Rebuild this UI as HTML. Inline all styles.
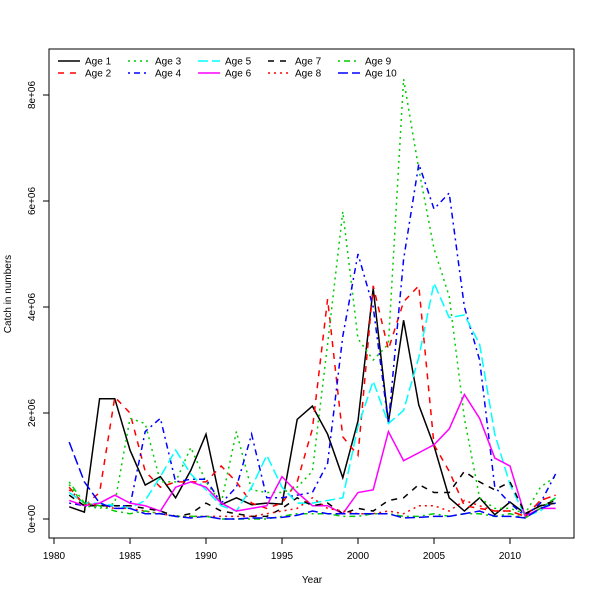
<!DOCTYPE html>
<html><head><meta charset="utf-8"><style>
body{margin:0;background:#fff;font-family:"Liberation Sans",sans-serif}
text{font-family:"Liberation Sans",sans-serif;font-size:10px}
</style></head><body>
<svg id="c" width="600" height="600">
<rect x="49" y="49" width="525" height="489" fill="none" stroke="#000"/>
<g id="axes"></g><g id="series"></g><g id="legend"></g>
<text x="312" y="583" text-anchor="middle">Year</text>
<text transform="translate(11,294) rotate(-90)" text-anchor="middle">Catch in numbers</text>
</svg>
<script>
const years=[1981,1982,1983,1984,1985,1986,1987,1988,1989,1990,1991,1992,1993,1994,1995,1996,1997,1998,1999,2000,2001,2002,2003,2004,2005,2006,2007,2008,2009,2010,2011,2012,2013];
const age1=[0.23,0.13,2.27,2.27,1.3,0.64,0.8,0.4,0.92,1.6,0.27,0.4,0.27,0.3,0.28,1.88,2.13,1.6,0.78,1.85,4.35,1.82,3.75,2.15,1.38,0.4,0.15,0.4,0.08,0.32,0.1,0.25,0.3];
const age2=[0.6,0.25,0.5,2.3,2.0,0.9,0.6,0.7,0.7,0.7,1.0,0.7,0.3,0.2,0.3,0.7,1.7,4.15,1.55,1.2,4.4,3.2,4.1,4.4,1.4,0.9,0.25,0.2,0.15,0.15,0.05,0.35,0.45];
const age3=[0.65,0.25,0.2,0.3,1.9,1.8,0.7,0.7,1.35,0.7,0.3,1.65,0.55,0.5,0.5,0.6,0.9,3.3,5.8,3.4,3.0,3.3,8.3,6.6,5.1,4.2,1.9,0.4,0.2,0.2,0.1,0.6,0.8];
const age4=[0.3,0.25,0.25,0.25,0.25,1.65,1.9,0.7,0.75,0.75,0.3,0.6,1.6,0.4,0.4,0.45,0.5,1.05,3.45,5.0,4.0,1.8,4.9,6.7,5.85,6.15,4.0,3.0,0.6,0.3,0.05,0.3,0.85];
const age5=[0.5,0.3,0.3,0.25,0.2,0.35,0.8,1.3,0.85,0.55,0.25,0.15,0.6,1.2,0.6,0.3,0.3,0.35,0.4,1.75,2.6,1.8,2.05,3.05,4.45,3.8,3.85,3.3,1.6,0.65,0.05,0.15,0.4];
const age6=[0.35,0.25,0.3,0.45,0.3,0.25,0.15,0.6,0.7,0.6,0.3,0.15,0.2,0.25,0.8,0.5,0.25,0.25,0.1,0.5,0.55,1.65,1.1,1.25,1.4,1.7,2.35,1.9,1.15,1.0,0.05,0.2,0.2];
const age7=[0.45,0.25,0.25,0.25,0.25,0.2,0.15,0.05,0.1,0.3,0.15,0.1,0.05,0.05,0.2,0.4,0.25,0.3,0.1,0.2,0.15,0.35,0.4,0.65,0.5,0.5,0.9,0.7,0.55,0.7,0.1,0.25,0.35];
const age8=[0.55,0.3,0.25,0.2,0.2,0.15,0.1,0.05,0.05,0.05,0.05,0.05,0.05,0.1,0.15,0.2,0.4,0.2,0.15,0.1,0.1,0.15,0.1,0.25,0.25,0.15,0.35,0.25,0.15,0.15,0.05,0.35,0.45];
const age9=[0.7,0.3,0.25,0.15,0.1,0.15,0.1,0.05,0.05,0.05,0,0,0,0,0.05,0.1,0.1,0.1,0.05,0.05,0.1,0.1,0.05,0.05,0.1,0.05,0.1,0.1,0.05,0.1,0.02,0.2,0.4];
const age10=[1.45,0.7,0.3,0.2,0.2,0.1,0.1,0.05,0.02,0.05,0,0,0.02,0.02,0.03,0.07,0.15,0.1,0.1,0.1,0.1,0.1,0.02,0.03,0.05,0.05,0.1,0.15,0.05,0.05,0.02,0.2,0.3];
const seriesNames=["Age 1","Age 2","Age 3","Age 4","Age 5","Age 6","Age 7","Age 8","Age 9","Age 10"];
const xTicks=[1980,1985,1990,1995,2000,2005,2010];
const yTicks=[0,2,4,6,8];
const yTickLabels=["0e+00","2e+06","4e+06","6e+06","8e+06"];
const all=[age1,age2,age3,age4,age5,age6,age7,age8,age9,age10];
const colors=["#000","#f00","#0c0","#00f","#0ff","#f0f","#000","#f00","#0c0","#00f"];
const dashes=["","6,6","2,4","2,4,6,4","10,4","","6,6","2,4","2,4,6,4","10,4"];
const NS="http://www.w3.org/2000/svg";
const xs=y=>54+(y-1980)*15.2, ys=v=>519-v*53;
function mk(t,a,p){const e=document.createElementNS(NS,t);for(const k in a)e.setAttribute(k,a[k]);p.appendChild(e);return e;}
const ax=document.getElementById('axes');
mk('line',{x1:xs(1980),x2:xs(2010),y1:538,y2:538,stroke:'#000'},ax);
xTicks.forEach(t=>{mk('line',{x1:xs(t),x2:xs(t),y1:538,y2:544,stroke:'#000'},ax);
 const tx=mk('text',{x:xs(t),y:559,'text-anchor':'middle'},ax);tx.textContent=t;
 
 });
mk('line',{x1:49,x2:49,y1:ys(0),y2:ys(8),stroke:'#000'},ax);
yTicks.forEach((t,i)=>{mk('line',{x1:43,x2:49,y1:ys(t),y2:ys(t),stroke:'#000'},ax);
 const tx=mk('text',{transform:`translate(35,${ys(t)}) rotate(-90)`,'text-anchor':'middle'},ax);tx.textContent=yTickLabels[i];
 
 });
const sg=document.getElementById('series');
all.forEach((d,i)=>{const p=mk('polyline',{points:d.map((v,j)=>xs(years[j])+','+ys(v)).join(' '),fill:'none',stroke:colors[i],'stroke-width':1.5,'stroke-dasharray':dashes[i]},sg);
 
 });
const lg=document.getElementById('legend');
seriesNames.forEach((n,i)=>{const col=Math.floor(i/2),row=i%2;const x=58+col*70,y=61+row*12;
 const g=mk('g',{},lg);
 
 
 mk('line',{x1:x,x2:x+22,y1:y,y2:y,stroke:colors[i],'stroke-width':1.5,'stroke-dasharray':dashes[i]},g);
 const t=mk('text',{x:x+27,y:y+3.5},g);t.textContent=n;});
</script>
</body></html>
